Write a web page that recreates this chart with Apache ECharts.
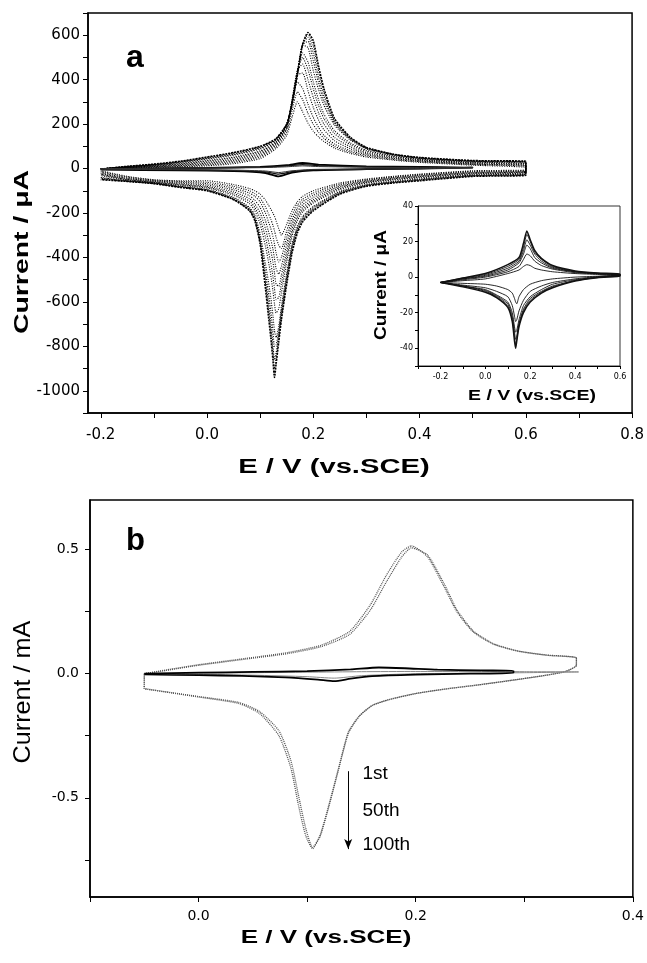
<!DOCTYPE html>
<html><head><meta charset="utf-8">
<script src="https://cdn.jsdelivr.net/npm/echarts@6.0.0/dist/echarts.min.js"></script>
<style>html,body{margin:0;padding:0;background:#fff}#c{width:647px;height:963px}</style>
</head><body><div id="c"></div>
<script>
// ---------- Panel a: potential grids (V) ----------
const aFwdE = [-0.2, -0.15, -0.1, -0.05, 0, 0.05, 0.1, 0.13, 0.15, 0.16, 0.17, 0.18, 0.19, 0.2, 0.21, 0.22, 0.24, 0.27, 0.3, 0.35, 0.4, 0.5, 0.6];
const aRevE = [0.6, 0.5, 0.4, 0.35, 0.3, 0.25, 0.2, 0.18, 0.17, 0.16, 0.15, 0.14, 0.135, 0.13, 0.127, 0.124, 0.12, 0.115, 0.11, 0.1, 0.09, 0.08, 0.05, 0, -0.05, -0.1, -0.15, -0.2];
// dotted cycles (inner -> outer), current in uA
const aCyc01Up = [0, 2, 5, 8, 12, 22, 45, 90, 150, 230, 300, 255, 205, 168, 142, 122, 92, 68, 52, 38, 28, 15, 5];
const aCyc01Dn = [-6, -10, -25, -35, -47, -65, -100, -125, -150, -190, -250, -300, -270, -235, -215, -200, -182, -162, -142, -115, -100, -90, -72, -55, -55, -50, -35, -10];
const aCyc02Up = [0, 3, 6, 10, 16, 27, 52, 98, 165, 260, 345, 310, 248, 198, 163, 136, 100, 74, 57, 41, 31, 18, 9];
const aCyc02Dn = [-8, -12, -27, -37, -50, -70, -110, -138, -165, -210, -280, -360, -345, -310, -280, -255, -228, -200, -172, -133, -113, -100, -80, -62, -58, -52, -38, -14];
const aCyc03Up = [0, 4, 8, 13, 20, 32, 58, 105, 180, 290, 390, 360, 290, 230, 185, 150, 110, 80, 62, 45, 34, 20, 12];
const aCyc03Dn = [-10, -15, -30, -40, -53, -75, -120, -150, -180, -230, -310, -400, -420, -380, -340, -305, -270, -235, -200, -150, -125, -110, -88, -68, -62, -55, -42, -18];
const aCyc04Up = [-1, 4, 9, 15, 24, 37, 64, 110, 185, 300, 420, 430, 350, 275, 218, 175, 125, 89, 67, 48, 36, 22, 14];
const aCyc04Dn = [-12, -18, -33, -43, -57, -80, -130, -163, -195, -250, -340, -440, -475, -450, -405, -362, -320, -278, -235, -175, -143, -122, -96, -74, -66, -57, -45, -22];
const aCyc05Up = [-1, 5, 11, 18, 28, 42, 70, 115, 190, 310, 440, 470, 400, 320, 250, 200, 140, 98, 72, 52, 39, 25, 17];
const aCyc05Dn = [-14, -20, -36, -46, -60, -85, -140, -175, -210, -270, -370, -480, -530, -520, -470, -420, -370, -320, -270, -200, -160, -135, -105, -80, -70, -60, -48, -25];
const aCyc06Up = [-1, 6, 13, 21, 33, 48, 76, 119, 193, 305, 440, 500, 445, 358, 282, 225, 157, 107, 78, 55, 41, 27, 20];
const aCyc06Dn = [-16, -23, -39, -49, -63, -90, -148, -185, -222, -288, -395, -520, -580, -590, -540, -485, -425, -365, -310, -225, -175, -147, -113, -84, -73, -62, -50, -28];
const aCyc07Up = [-1, 6, 14, 23, 36, 52, 80, 122, 195, 300, 440, 520, 480, 390, 310, 245, 170, 115, 82, 58, 43, 29, 22];
const aCyc07Dn = [-18, -25, -42, -52, -66, -95, -155, -195, -235, -305, -420, -560, -630, -650, -610, -550, -480, -410, -350, -250, -190, -158, -120, -88, -76, -63, -52, -32];
const aCyc08Up = [-2, 8, 16, 27, 42, 60, 88, 128, 198, 295, 430, 555, 545, 440, 355, 285, 195, 128, 88, 62, 46, 32, 26];
const aCyc08Dn = [-22, -29, -47, -58, -72, -103, -170, -215, -260, -340, -470, -620, -710, -760, -730, -660, -580, -500, -430, -295, -210, -175, -130, -94, -80, -65, -55, -40];
const aCyc09Up = [-2, 9, 17, 29, 45, 63, 92, 130, 199, 294, 428, 558, 572, 485, 385, 305, 203, 132, 91, 63, 47, 33, 28];
const aCyc09Dn = [-24, -30, -49, -60, -74, -106, -175, -222, -268, -350, -485, -640, -730, -795, -800, -730, -640, -548, -465, -312, -218, -180, -134, -96, -82, -66, -56, -43];
const aCyc10Up = [-2, 9, 18, 30, 47, 66, 95, 132, 200, 292, 425, 560, 590, 520, 410, 325, 210, 135, 93, 64, 48, 34, 29];
const aCyc10Dn = [-26, -32, -51, -62, -76, -110, -180, -228, -275, -360, -500, -655, -750, -830, -860, -790, -690, -590, -495, -325, -225, -185, -137, -98, -83, -67, -57, -45];
const aCyc11Up = [-3, 10, 19, 32, 50, 70, 98, 134, 200, 291, 422, 560, 604, 552, 440, 345, 218, 138, 94, 65, 49, 35, 31];
const aCyc11Dn = [-28, -34, -53, -64, -78, -113, -185, -234, -283, -370, -510, -668, -765, -855, -900, -825, -725, -620, -518, -333, -230, -188, -139, -99, -84, -68, -58, -48];
const aCyc12Up = [-3, 10, 20, 33, 52, 72, 100, 135, 200, 290, 420, 560, 612, 575, 460, 360, 225, 140, 95, 65, 50, 36, 32];
const aCyc12Dn = [-30, -35, -55, -65, -80, -115, -190, -240, -290, -380, -520, -680, -780, -880, -940, -860, -760, -650, -540, -340, -235, -190, -140, -100, -85, -68, -58, -50];
// solid small cycles
const aSolFwdE = [-0.2, -0.1, 0, 0.1, 0.15, 0.18, 0.21, 0.3, 0.4, 0.5];
const aSolRevE = [0.5, 0.4, 0.3, 0.2, 0.16, 0.135, 0.11, 0.05, -0.05, -0.2];
const aSol1Up = [-2, 0, 3, 8, 15, 25, 18, 10, 7, 5];
const aSol1Dn = [3, 0, -3, -8, -18, -35, -20, -12, -8, -5];
const aSol2Up = [-1, 1, 3, 6, 12, 18, 13, 8, 6, 4];
const aSol2Dn = [2, 0, -2, -6, -14, -25, -15, -9, -6, -4];
const aSol3Up = [0, 1, 2, 4, 8, 12, 9, 6, 4, 3];
const aSol3Dn = [1, 0, -2, -4, -10, -18, -11, -7, -5, -3];
// ticks panel a
const aXTicks = [-0.2, -0.1, 0, 0.1, 0.2, 0.3, 0.4, 0.5, 0.6, 0.7, 0.8];
const aXLabels = [-0.2, 0, 0.2, 0.4, 0.6, 0.8];
const aYTicks = [-1100, -1000, -900, -800, -700, -600, -500, -400, -300, -200, -100, 0, 100, 200, 300, 400, 500, 600, 700];
const aYLabels = [-1000, -800, -600, -400, -200, 0, 200, 400, 600];

// ---------- Inset ----------
const inFwdE = [-0.2, -0.1, 0, 0.1, 0.15, 0.17, 0.185, 0.2, 0.22, 0.25, 0.3, 0.4, 0.5, 0.6];
const inRevE = [0.6, 0.5, 0.4, 0.3, 0.25, 0.2, 0.17, 0.15, 0.14, 0.135, 0.13, 0.12, 0.1, 0.05, 0, -0.1, -0.2];
const in1Up = [-3, -2, -1, 2, 4, 6, 7, 6.5, 5, 4, 3, 2, 1.5, 1];
const in1Dn = [1, 0.5, 0, -1, -2, -4, -7, -11, -15, -14, -12, -9, -7, -5, -4, -3.5, -3];
const in2Up = [-3, -1.5, 0, 3, 6, 10, 13, 12, 9, 6.5, 4.5, 2.5, 1.8, 1.2];
const in2Dn = [1, 0.3, -1, -3, -5, -8, -13, -19, -24, -25, -22, -16, -11, -8, -6, -4.5, -3];
const in3Up = [-3, -1, 0.5, 4, 8, 13, 18, 16, 11, 8, 5, 3, 2, 1.4];
const in3Dn = [1, 0, -1.5, -4, -7, -11, -16, -24, -30, -31, -28, -20, -14, -10, -7, -5, -3];
const in4Up = [-3, -1, 1, 5, 9, 15, 21, 18, 13, 9, 5.5, 3, 2, 1.5];
const in4Dn = [0.8, 0, -2, -5, -8, -12, -18, -26, -33, -35, -31, -22, -15, -10.5, -7.5, -5, -3];
const in5Up = [-3, -0.5, 1.5, 6, 10, 17, 24, 20, 14, 10, 6, 3.2, 2.2, 1.6];
const in5Dn = [0.7, -0.2, -2, -5.5, -8.5, -13, -19, -27, -35, -38, -34, -24, -16, -11, -8, -5, -3];
const in6Up = [-3, -0.5, 2, 7, 11, 19, 26, 21, 15, 10.5, 6.5, 3.5, 2.3, 1.7];
const in6Dn = [0.5, -0.3, -2.2, -6, -9, -14, -20, -28, -36, -40, -36, -25, -17, -11.5, -8.5, -5.5, -3];
const inXTicks = [-0.3, -0.2, -0.1, 0, 0.1, 0.2, 0.3, 0.4, 0.5, 0.6];
const inXLabels = [-0.2, 0, 0.2, 0.4, 0.6];
const inYTicks = [-50, -40, -30, -20, -10, 0, 10, 20, 30, 40];
const inYLabels = [-40, -20, 0, 20, 40];

// ---------- Panel b (mA) ----------
const bFwdE = [-0.05, -0.03, 0, 0.044, 0.082, 0.113, 0.139, 0.158, 0.173, 0.187, 0.196, 0.211, 0.227, 0.238, 0.253, 0.272, 0.295, 0.321, 0.348];
const bRevE = [0.348, 0.338, 0.319, 0.288, 0.258, 0.227, 0.2, 0.175, 0.16, 0.148, 0.138, 0.129, 0.12, 0.112, 0.105, 0.0985, 0.092, 0.085, 0.074, 0.056, 0.037, 0, -0.024, -0.047, -0.05, -0.05];
const b1stUp = [0.0, 0.015, 0.036, 0.062, 0.085, 0.115, 0.17, 0.276, 0.397, 0.49, 0.515, 0.47, 0.343, 0.249, 0.168, 0.118, 0.09, 0.074, 0.063];
const b1stDn = [0.033, 0.009, -0.007, -0.027, -0.045, -0.062, -0.08, -0.105, -0.128, -0.17, -0.235, -0.38, -0.53, -0.65, -0.705, -0.65, -0.53, -0.38, -0.25, -0.16, -0.12, -0.094, -0.078, -0.063, -0.06, 0.0];
const b50thUp = [0.0, 0.013, 0.034, 0.059, 0.081, 0.109, 0.158, 0.255, 0.37, 0.47, 0.507, 0.478, 0.355, 0.257, 0.172, 0.12, 0.091, 0.075, 0.064];
const b50thDn = [0.035, 0.009, -0.007, -0.027, -0.045, -0.062, -0.08, -0.105, -0.128, -0.172, -0.24, -0.385, -0.535, -0.655, -0.70, -0.62, -0.49, -0.35, -0.23, -0.152, -0.116, -0.092, -0.077, -0.062, -0.059, 0.0];
const bSol1FwdE = [-0.05, 0, 0.05, 0.1, 0.14, 0.166, 0.19, 0.22, 0.26, 0.29];
const bSol1Up = [0, 0.004, 0.007, 0.01, 0.017, 0.025, 0.022, 0.016, 0.013, 0.012];
const bSol1RevE = [0.29, 0.25, 0.2, 0.16, 0.14, 0.125, 0.11, 0.08, 0.04, 0, -0.05];
const bSol1Dn = [0.003, 0.0, -0.004, -0.01, -0.02, -0.03, -0.024, -0.015, -0.009, -0.006, -0.003];
const bSol2FwdE = [-0.05, 0, 0.05, 0.1, 0.15, 0.2, 0.25, 0.3, 0.35];
const bSol2Up = [0, 0.002, 0.004, 0.006, 0.008, 0.009, 0.009, 0.008, 0.007];
const bSol2RevE = [0.35, 0.3, 0.25, 0.2, 0.15, 0.125, 0.1, 0.05, 0, -0.05];
const bSol2Dn = [0.006, 0.004, 0.002, 0.0, -0.008, -0.018, -0.012, -0.006, -0.003, -0.002];
const bXTicks = [-0.1, 0, 0.1, 0.2, 0.3, 0.4];
const bXLabels = [0, 0.2, 0.4];
const bYTicks = [-0.75, -0.5, -0.25, 0, 0.25, 0.5];
const bYLabels = [-0.5, 0, 0.5];
// annotation
const annoArrowE = [0.1378, 0.1378];
const annoArrowI = [-0.393, -0.707];
const annoTextE = [0.151, 0.151, 0.151];
const annoTextI = [-0.403, -0.551, -0.691];
const annoText = ['1st', '50th', '100th'];

// ---------- build ----------
function loop(fe, up, re, dn) {
  return fe.map((e, i) => [e, up[i]]).concat(re.map((e, i) => [e, dn[i]]));
}
const FONT = 'Liberation Sans, Arial, sans-serif';
const TICKFONT = 'DejaVu Sans, sans-serif';
const series = [];
const aDotted = [[aCyc01Up, aCyc01Dn], [aCyc02Up, aCyc02Dn], [aCyc03Up, aCyc03Dn], [aCyc04Up, aCyc04Dn],
  [aCyc05Up, aCyc05Dn], [aCyc06Up, aCyc06Dn], [aCyc07Up, aCyc07Dn], [aCyc08Up, aCyc08Dn],
  [aCyc09Up, aCyc09Dn], [aCyc10Up, aCyc10Dn], [aCyc11Up, aCyc11Dn], [aCyc12Up, aCyc12Dn]];
aDotted.forEach((c, k) => {
  const outer = k === aDotted.length - 1;
  series.push({type: 'line', xAxisIndex: 0, yAxisIndex: 0, symbol: 'none', smooth: 0.2, silent: true,
    lineStyle: {color: '#000', width: outer ? 1.6 : 1.1, type: outer ? [2, 1] : [1, 1.4], dashOffset: k * 0.6},
    data: loop(aFwdE, c[0], aRevE, c[1])});
});
[[aSol1Up, aSol1Dn, 1.8, '#000'], [aSol2Up, aSol2Dn, 1.3, '#111'], [aSol3Up, aSol3Dn, 1, '#333']].forEach(c => {
  series.push({type: 'line', xAxisIndex: 0, yAxisIndex: 0, symbol: 'none', smooth: 0.2, silent: true,
    lineStyle: {color: c[3], width: c[2]}, data: loop(aSolFwdE, c[0], aSolRevE, c[1])});
});
[[in1Up, in1Dn], [in2Up, in2Dn], [in3Up, in3Dn], [in4Up, in4Dn], [in5Up, in5Dn], [in6Up, in6Dn]].forEach((c, k) => {
  series.push({type: 'line', xAxisIndex: 1, yAxisIndex: 1, symbol: 'none', smooth: 0.2, silent: true,
    lineStyle: {color: '#111', width: k === 5 ? 1.5 : 0.9}, data: loop(inFwdE, c[0], inRevE, c[1])});
});
[[b1stUp, b1stDn], [b50thUp, b50thDn]].forEach(c => {
  series.push({type: 'line', xAxisIndex: 2, yAxisIndex: 2, symbol: 'none', smooth: 0.2, silent: true,
    lineStyle: {color: '#555', width: 1.3, type: [1, 1]}, data: loop(bFwdE, c[0], bRevE, c[1])});
});
series.push({type: 'line', xAxisIndex: 2, yAxisIndex: 2, symbol: 'none', smooth: 0.2, silent: true,
  lineStyle: {color: '#888', width: 1}, data: loop(bSol2FwdE, bSol2Up, bSol2RevE, bSol2Dn)});
series.push({type: 'line', xAxisIndex: 2, yAxisIndex: 2, symbol: 'none', smooth: 0.2, silent: true,
  lineStyle: {color: '#000', width: 1.8}, data: loop(bSol1FwdE, bSol1Up, bSol1RevE, bSol1Dn),
  markLine: {silent: true, symbol: ['none', 'arrow'], symbolSize: [6, 10], label: {show: false},
    lineStyle: {color: '#000', width: 1, type: 'solid'},
    data: [[{coord: [annoArrowE[0], annoArrowI[0]]}, {coord: [annoArrowE[1], annoArrowI[1]]}]]}});

function xAx(grid, min, max, ticks, labels, fs, margin, tl, lw) {
  return {type: 'value', gridIndex: grid, min: min, max: max, splitLine: {show: false},
    axisLine: {show: true, onZero: false, lineStyle: {color: '#000', width: lw}},
    axisTick: {show: true, customValues: ticks, length: tl, inside: false, lineStyle: {color: '#000', width: 1}},
    axisLabel: {show: true, customValues: labels, margin: margin, fontSize: fs, color: '#000', fontFamily: TICKFONT,
      formatter: v => Number(v).toFixed(1)}};
}
function yAx(grid, min, max, ticks, labels, fs, margin, tl, lw, fmt) {
  return {type: 'value', gridIndex: grid, min: min, max: max, splitLine: {show: false},
    axisLine: {show: true, onZero: false, lineStyle: {color: '#000', width: lw}},
    axisTick: {show: true, customValues: ticks, length: tl, inside: false, lineStyle: {color: '#000', width: 1}},
    axisLabel: {show: true, customValues: labels, margin: margin, fontSize: fs, color: '#000', fontFamily: TICKFONT,
      formatter: fmt}};
}
function txt(t, x, y, font, rot, sx) {
  return {type: 'text', x: x, y: y, rotation: rot || 0, scaleX: sx || 1, silent: true,
    style: {text: t, font: font, fill: '#000', textAlign: 'center', textVerticalAlign: 'middle', align: 'center', verticalAlign: 'middle'}};
}
const baseGraphic = [
  {type: 'text', x: 126, y: 58, silent: true, style: {text: 'a', font: 'bold 32px ' + FONT, fill: '#000', textVerticalAlign: 'middle', verticalAlign: 'middle'}},
  {type: 'text', x: 126, y: 541, silent: true, style: {text: 'b', font: 'bold 31px ' + FONT, fill: '#000', textVerticalAlign: 'middle', verticalAlign: 'middle'}},
  txt('Current / μA', 22, 252, 'bold 20px ' + FONT, Math.PI / 2, 1.42),
  txt('E / V (vs.SCE)', 334, 467, 'bold 20px ' + FONT, 0, 1.46),
  txt('Current / μA', 381, 285, 'bold 17px ' + FONT, Math.PI / 2, 1.12),
  txt('E / V (vs.SCE)', 532, 396, 'bold 15px ' + FONT, 0, 1.3),
  txt('Current / mA', 23, 692, '24px ' + FONT, Math.PI / 2, 1.05),
  txt('E / V (vs.SCE)', 326, 938, 'bold 19px ' + FONT, 0, 1.37)
];
const option = {
  animation: false,
  backgroundColor: '#fff',
  grid: [
    {left: 88, top: 13, width: 548, height: 400, show: true, borderColor: '#000', borderWidth: 1.5},
    {left: 418, top: 206, width: 202, height: 160, show: true, borderColor: '#333', borderWidth: 1, backgroundColor: '#fff'},
    {left: 90, top: 500, width: 544, height: 397, show: true, borderColor: '#000', borderWidth: 1.5}
  ],
  xAxis: [
    xAx(0, -0.224, 0.8, aXTicks, aXLabels, 15, 15, 5, 1.5),
    xAx(1, -0.3, 0.6, inXTicks, inXLabels, 8, 7, 3, 1),
    xAx(2, -0.1, 0.4, bXTicks, bXLabels, 14, 12, 5, 1.5)
  ],
  yAxis: [
    yAx(0, -1100, 700, aYTicks, aYLabels, 15, 8, 5, 1.5, v => String(Math.round(v))),
    yAx(1, -50, 40, inYTicks, inYLabels, 8, 5, 3, 1, v => String(Math.round(v))),
    yAx(2, -0.9, 0.7, bYTicks, bYLabels, 14, 11, 5, 1.5, v => Number(v).toFixed(1))
  ],
  series: series,
  graphic: baseGraphic
};
const chart = echarts.init(document.getElementById('c'), null, {renderer: 'canvas'});
chart.setOption(option);
// annotation texts placed through panel b's axes
const annoGraphic = annoText.map((t, i) => {
  const p = chart.convertToPixel({xAxisIndex: 2, yAxisIndex: 2}, [annoTextE[i], annoTextI[i]]);
  return {type: 'text', x: p[0], y: p[1], silent: true,
    style: {text: t, font: '19px ' + FONT, fill: '#000', textAlign: 'left', align: 'left', textVerticalAlign: 'middle', verticalAlign: 'middle'}};
});
chart.setOption({graphic: baseGraphic.concat(annoGraphic)});
</script></body></html>
